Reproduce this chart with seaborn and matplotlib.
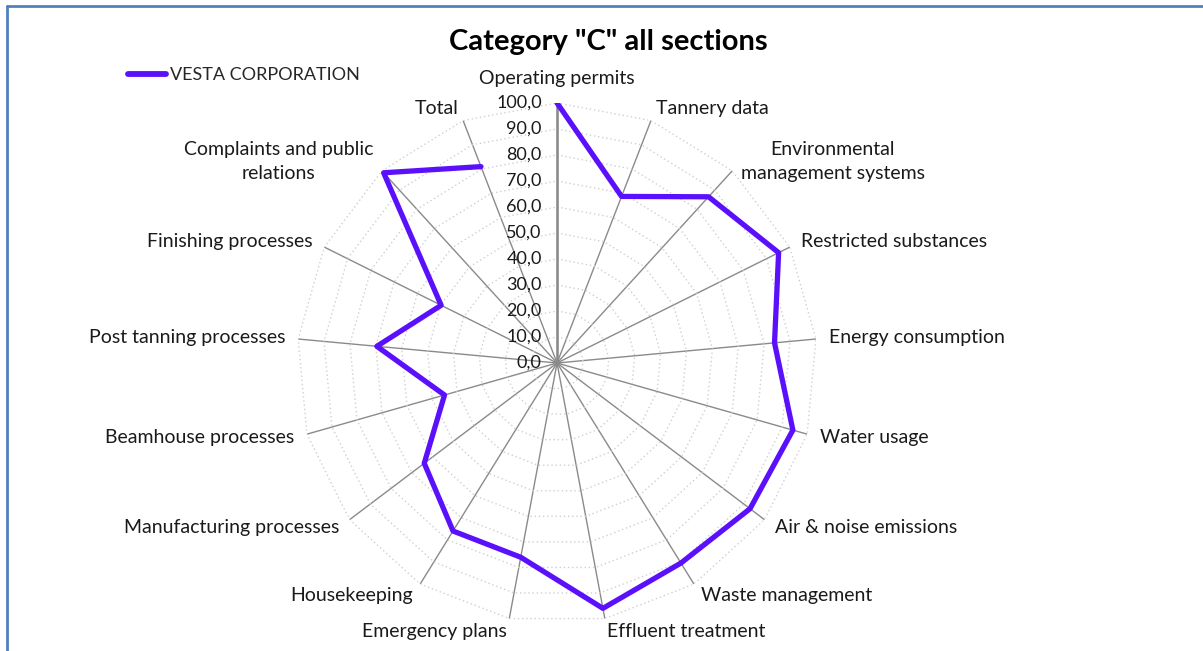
"""
Radar chart - Category "C" all sections (VESTA CORPORATION)
"""
import numpy as np
import pandas as pd
import seaborn as sns
import matplotlib.pyplot as plt
from matplotlib.lines import Line2D


# Categorias e valores
categories = [
    'Operating permits', 'Tannery data', 'Environmental\nmanagement systems',
    'Restricted substances', 'Energy consumption', 'Water usage',
    'Air & noise emissions', 'Waste management', 'Effluent treatment',
    'Emergency plans', 'Housekeeping', 'Manufacturing processes',
    'Beamhouse processes', 'Post tanning processes', 'Finishing processes',
    'Complaints and public\nrelations', 'Total',
]
vesta_values = [100.0, 68.7, 86.5, 95.2, 84.0, 94.3, 93.0, 90.5, 96.0,
                76.0, 76.0, 64.0, 45.0, 69.6, 49.8, 99.0, 81.0]
radial_ticks = [0, 10, 20, 30, 40, 50, 60, 70, 80, 90, 100]
radial_labels = ['0,0', '10,0', '20,0', '30,0', '40,0', '50,0',
                 '60,0', '70,0', '80,0', '90,0', '100,0']

series_name = 'VESTA CORPORATION'
line_color = '#5b10fb'

sns.set_theme(style='white')
plt.rcParams['font.family'] = ['Lato', 'DejaVu Sans']

n = len(categories)
theta = np.linspace(0, 2 * np.pi, n, endpoint=False)

# fecha o poligono
df = pd.DataFrame({'theta': np.append(theta, theta[0]),
                   'value': vesta_values + [vesta_values[0]]})

fig = plt.figure(figsize=(12.03, 6.51), dpi=100)
ax = fig.add_axes([0.2469, 0.0430, 0.4323, 0.7988], projection='polar')
ax.set_theta_zero_location('N')
ax.set_theta_direction(-1)
ax.set_ylim(0, 100)

# grade poligonal pontilhada (estilo Excel)
closed = np.append(theta, theta[0])
for r in radial_ticks[1:]:
    ax.plot(closed, [r] * len(closed), linestyle=(0, (1, 2)),
            color='#cfcfcf', linewidth=1, zorder=1)

ax.set_xticks(theta)
ax.set_xticklabels([])
ax.set_yticks([])
ax.xaxis.grid(True, color='#8a8a8a', linewidth=1.0, linestyle='-')
ax.yaxis.grid(False)
ax.spines['polar'].set_visible(False)
ax.plot([0, 0], [0, 100], color='#8a8a8a', linewidth=1.8, zorder=2)

sns.lineplot(data=df, x='theta', y='value', sort=False, ax=ax,
             color=line_color, linewidth=3.8, label=series_name, zorder=5)
ax.get_legend().remove()
ax.set_xlabel('')
ax.set_ylabel('')

# rotulos radiais
for r, lab in zip(radial_ticks, radial_labels):
    ax.annotate(lab, xy=(0, r), xytext=(-11, 0), textcoords='offset points',
                ha='right', va='center', fontsize=13, color='#1a1a1a')

# rotulos das categorias
for t, lab in zip(theta, categories):
    s = np.sin(t)
    if abs(s) < 0.01:
        ax.text(t, 106, lab, ha='center', va='bottom', fontsize=14,
                color='#1a1a1a')
    else:
        ax.text(t, 105, lab, ha='left' if s > 0 else 'right', va='center',
                multialignment='center', linespacing=1.5, fontsize=14,
                color='#1a1a1a')

fig.text(608 / 1203, 1 - 42 / 651, 'Category "C" all sections',
         ha='center', va='center', fontsize=21, fontweight='bold',
         color='#000000')

handle = Line2D([], [], color=line_color, linewidth=4.2, solid_capstyle='round')
fig.legend(handles=[handle], labels=[series_name], loc='center left',
           bbox_to_anchor=(128 / 1203, 1 - 75 / 651), frameon=False,
           fontsize=13, handlelength=2.1, handletextpad=0.2, borderpad=0,
           borderaxespad=0)

# borda azul (esquerda e topo)
fig.add_artist(Line2D([0.0055, 0.0055], [0, 0.9915], color='#4f81bd',
                      linewidth=2, transform=fig.transFigure))
fig.add_artist(Line2D([0.0055, 1], [0.9915, 0.9915], color='#4f81bd',
                      linewidth=2, transform=fig.transFigure))

plt.savefig('out.png', dpi=100)
plt.close()
